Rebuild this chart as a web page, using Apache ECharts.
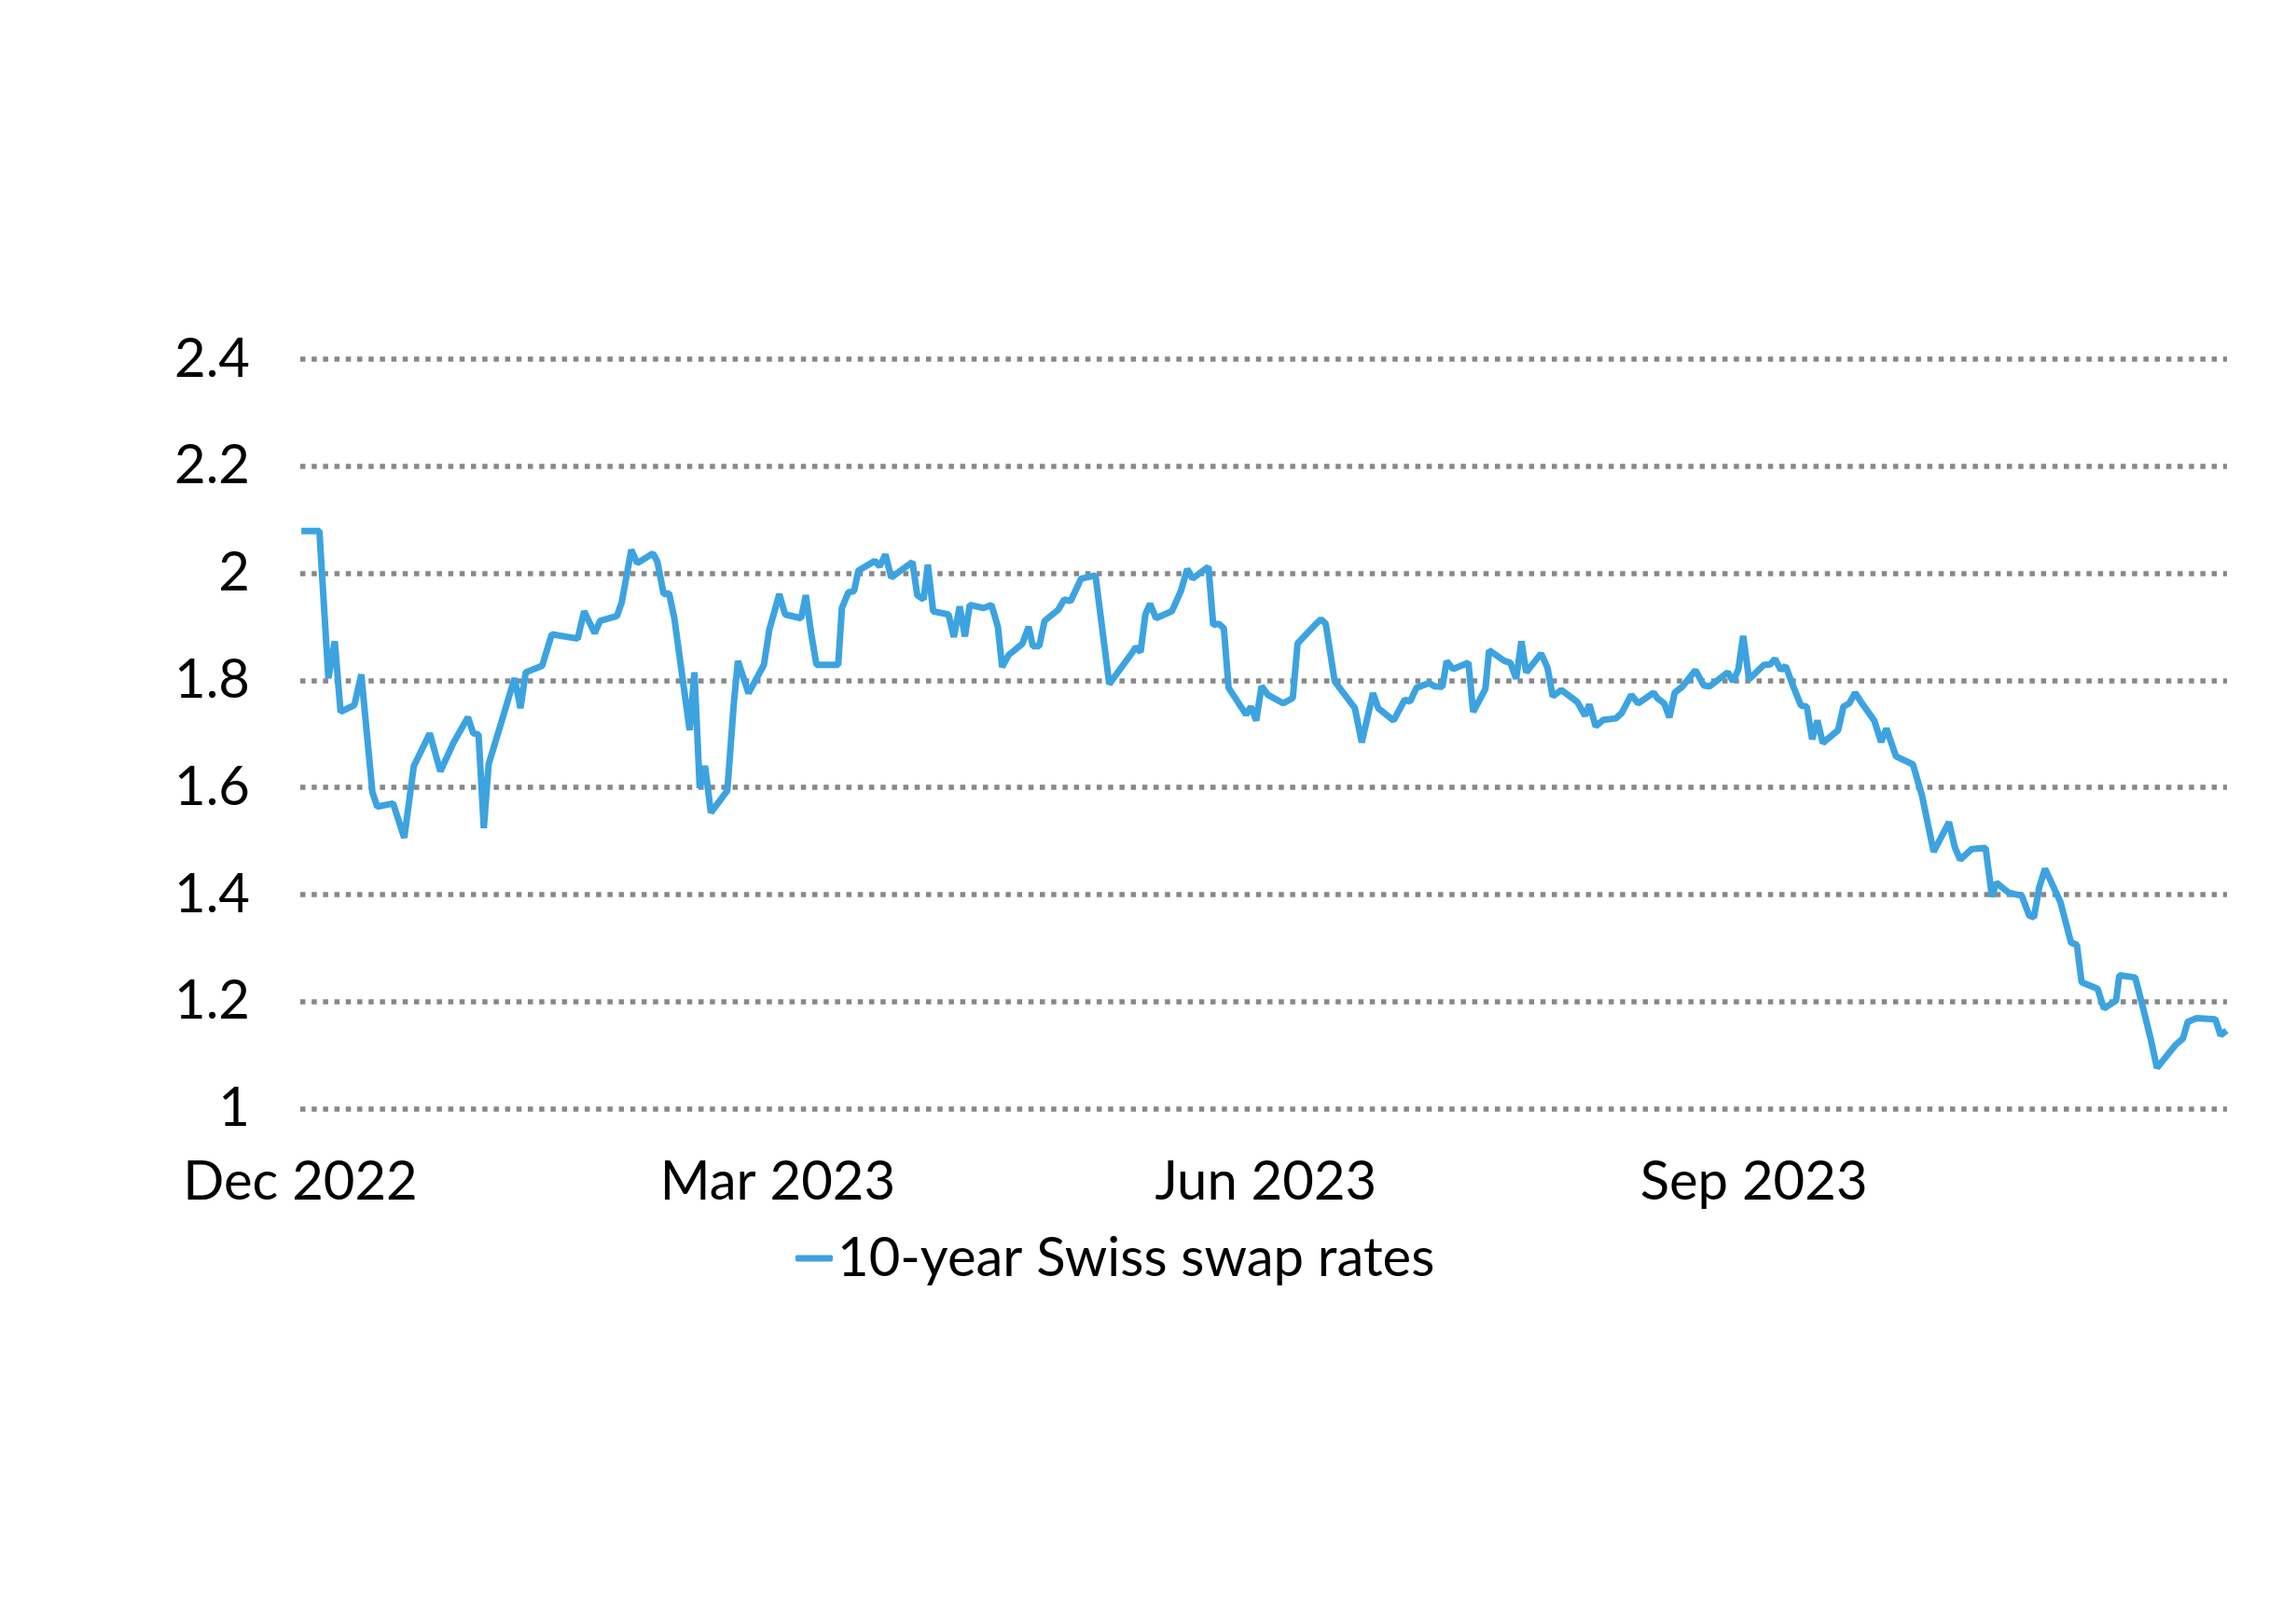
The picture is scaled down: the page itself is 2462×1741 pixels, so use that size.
<!DOCTYPE html>
<html>
<head>
<meta charset="utf-8">
<script src="https://cdn.jsdelivr.net/npm/echarts@6/dist/echarts.min.js"></script>
<style>
  html, body { margin: 0; padding: 0; background: #ffffff; }
  #chart { width: 2462px; height: 1741px; }
</style>
</head>
<body>
<div id="chart"></div>
<script>
// ---- data ----
const seriesName = '10-year Swiss swap rates';
const startYear = 2022, startMonth = 11, startDay = 1; // 1 Dec 2022 = day 0
const axisEndOffset = 363.2; // days after start where the plot ends
// days after 1 Dec 2022
const dayOffsets = [
  0.2,3.6,5.3,6.5,7.6,10.2,11.5,13.6,14.5,17.5,
  19.6,21.4,24.4,26.4,28.9,31.6,32.6,33.6,34.6,35.5,
  40.4,41.5,42.5,45.6,47.4,52.3,53.5,55.5,56.5,59.7,
  60.6,62.4,63.5,66.5,67.3,68.5,69.5,70.5,73.4,74.3,
  75.3,76.3,77.4,80.5,81.7,82.5,84.5,87.4,88.4,90.3,
  91.4,94.4,95.3,96.3,97.3,101.4,102.1,103.3,104.4,105.2,
  108.3,109.2,110.3,111.4,115.4,116.3,117.5,118.3,119.3,122.2,
  123.2,124.3,125.3,126.2,128.8,130.3,131.5,132.3,133.5,136.1,
  137.3,138.1,139.3,140.3,142.9,144.0,145.2,147.2,149.9,152.5,
  156.9,157.5,158.4,159.3,160.2,161.3,164.3,166.0,167.2,168.2,
  171.2,172.1,173.1,174.1,175.0,178.3,179.2,180.2,181.2,182.4,
  185.3,187.1,188.0,191.5,192.4,193.3,195.0,198.8,200.1,202.2,
  203.2,206.1,208.2,209.2,210.4,212.8,213.8,215.3,216.1,217.3,
  220.2,221.1,223.4,224.1,227.0,228.1,229.2,230.2,231.1,233.9,
  235.1,236.1,237.7,240.7,242.2,243.0,244.2,245.6,248.0,249.1,
  250.9,252.2,255.1,255.9,257.1,258.1,259.1,260.6,263.0,264.6,
  265.7,269.1,270.1,271.1,272.0,273.1,275.9,277.1,278.0,279.1,
  280.0,281.3,282.9,284.0,285.0,286.0,287.0,289.9,290.9,292.0,
  293.1,294.4,296.7,298.0,299.0,300.8,304.0,305.7,307.9,310.8,
  311.9,312.9,315.1,317.7,318.9,319.7,322.1,324.5,325.9,326.8,
  327.8,328.9,329.7,331.8,333.8,334.9,335.8,338.8,340.0,342.3,
  342.9,345.9,347.4,348.8,350.0,353.5,354.9,355.8,357.5,361.0,
  362.0,363.1
];
const swapRates = [
  2.079,2.079,1.804,1.873,1.741,1.754,1.811,1.591,1.564,1.570,
  1.506,1.640,1.701,1.630,1.684,1.731,1.701,1.699,1.524,1.643,
  1.804,1.748,1.815,1.827,1.886,1.878,1.929,1.888,1.911,1.920,
  1.946,2.044,2.019,2.037,2.022,1.961,1.963,1.917,1.707,1.815,
  1.599,1.640,1.553,1.594,1.754,1.836,1.776,1.829,1.894,1.961,
  1.923,1.916,1.959,1.888,1.829,1.829,1.935,1.964,1.967,2.005,
  2.023,2.013,2.035,1.992,2.021,1.959,1.951,2.016,1.929,1.923,
  1.881,1.938,1.882,1.941,1.935,1.941,1.900,1.825,1.847,1.868,
  1.900,1.864,1.864,1.911,1.932,1.951,1.948,1.990,1.996,1.793,
  1.853,1.862,1.853,1.923,1.943,1.916,1.929,1.967,2.008,1.990,
  2.012,1.903,1.906,1.897,1.786,1.736,1.751,1.725,1.789,1.773,
  1.757,1.767,1.869,1.906,1.914,1.906,1.798,1.748,1.684,1.776,
  1.748,1.725,1.764,1.760,1.786,1.795,1.789,1.788,1.836,1.821,
  1.833,1.741,1.784,1.856,1.836,1.833,1.803,1.873,1.815,1.850,
  1.824,1.770,1.782,1.760,1.734,1.755,1.714,1.726,1.729,1.739,
  1.773,1.757,1.777,1.766,1.757,1.731,1.777,1.789,1.819,1.790,
  1.789,1.815,1.798,1.821,1.883,1.802,1.829,1.830,1.840,1.819,
  1.827,1.792,1.753,1.751,1.690,1.725,1.683,1.707,1.751,1.757,
  1.777,1.757,1.725,1.685,1.710,1.658,1.643,1.585,1.480,1.535,
  1.488,1.465,1.485,1.487,1.396,1.422,1.403,1.398,1.361,1.357,
  1.413,1.448,1.431,1.386,1.310,1.306,1.236,1.224,1.187,1.202,
  1.249,1.245,1.187,1.131,1.076,1.119,1.131,1.162,1.169,1.167,
  1.137,1.146
];
// x tick labels: [year, monthIndex] (first day of month)
const xTickMonths = [[2022, 11], [2023, 2], [2023, 5], [2023, 8]];
const monthNames = ['Jan','Feb','Mar','Apr','May','Jun','Jul','Aug','Sep','Oct','Nov','Dec'];
const yMin = 1, yMax = 2.4, yStep = 0.2;

// ---- build ----
const DAY = 86400000;
const t0 = Date.UTC(startYear, startMonth, startDay);
const lineData = dayOffsets.map((d, i) => [d, swapRates[i]]);
const xTickOffsets = xTickMonths.map(([y, m]) => Math.round((Date.UTC(y, m, 1) - t0) / DAY));
function offsetLabel(v) {
  const dt = new Date(t0 + Math.round(v) * DAY);
  return monthNames[dt.getUTCMonth()] + ' ' + dt.getUTCFullYear();
}

const FONT = 'Lato';
const chart = echarts.init(document.getElementById('chart'), null, { renderer: 'canvas' });
chart.setOption({
  backgroundColor: '#ffffff',
  animation: false,
  grid: { left: 322, right: 74, top: 385, bottom: 552.5, containLabel: false },
  xAxis: {
    type: 'value',
    min: 0,
    max: axisEndOffset,
    axisLine: { show: false },
    axisTick: { show: false },
    splitLine: { show: false },
    axisLabel: {
      customValues: xTickOffsets,
      showMinLabel: true,
      showMaxLabel: true,
      hideOverlap: false,
      margin: 50,
      color: '#000000',
      fontFamily: FONT,
      fontSize: 58,
      formatter: offsetLabel
    }
  },
  yAxis: {
    type: 'value',
    min: yMin,
    max: yMax,
    interval: yStep,
    axisLine: { show: false },
    axisTick: { show: false },
    axisLabel: {
      margin: 54,
      color: '#000000',
      fontFamily: FONT,
      fontSize: 58,
      formatter: function (v) { return String(Math.round(v * 10) / 10); }
    },
    splitLine: {
      show: true,
      lineStyle: { color: '#888888', width: 5.5, type: [5.5, 6.7], cap: 'butt' }
    }
  },
  legend: {
    show: true,
    left: 853,
    top: 1320,
    padding: 0,
    icon: 'roundRect',
    itemWidth: 40,
    itemHeight: 7,
    itemGap: 20,
    textStyle: { color: '#000000', fontFamily: FONT, fontSize: 58 },
    data: [seriesName]
  },
  series: [{
    name: seriesName,
    type: 'line',
    data: lineData,
    showSymbol: false,
    symbol: 'none',
    smooth: false,
    color: '#3CA3E0',
    lineStyle: { color: '#3CA3E0', width: 7 },
    emphasis: { disabled: true }
  }]
});
</script>
</body>
</html>
